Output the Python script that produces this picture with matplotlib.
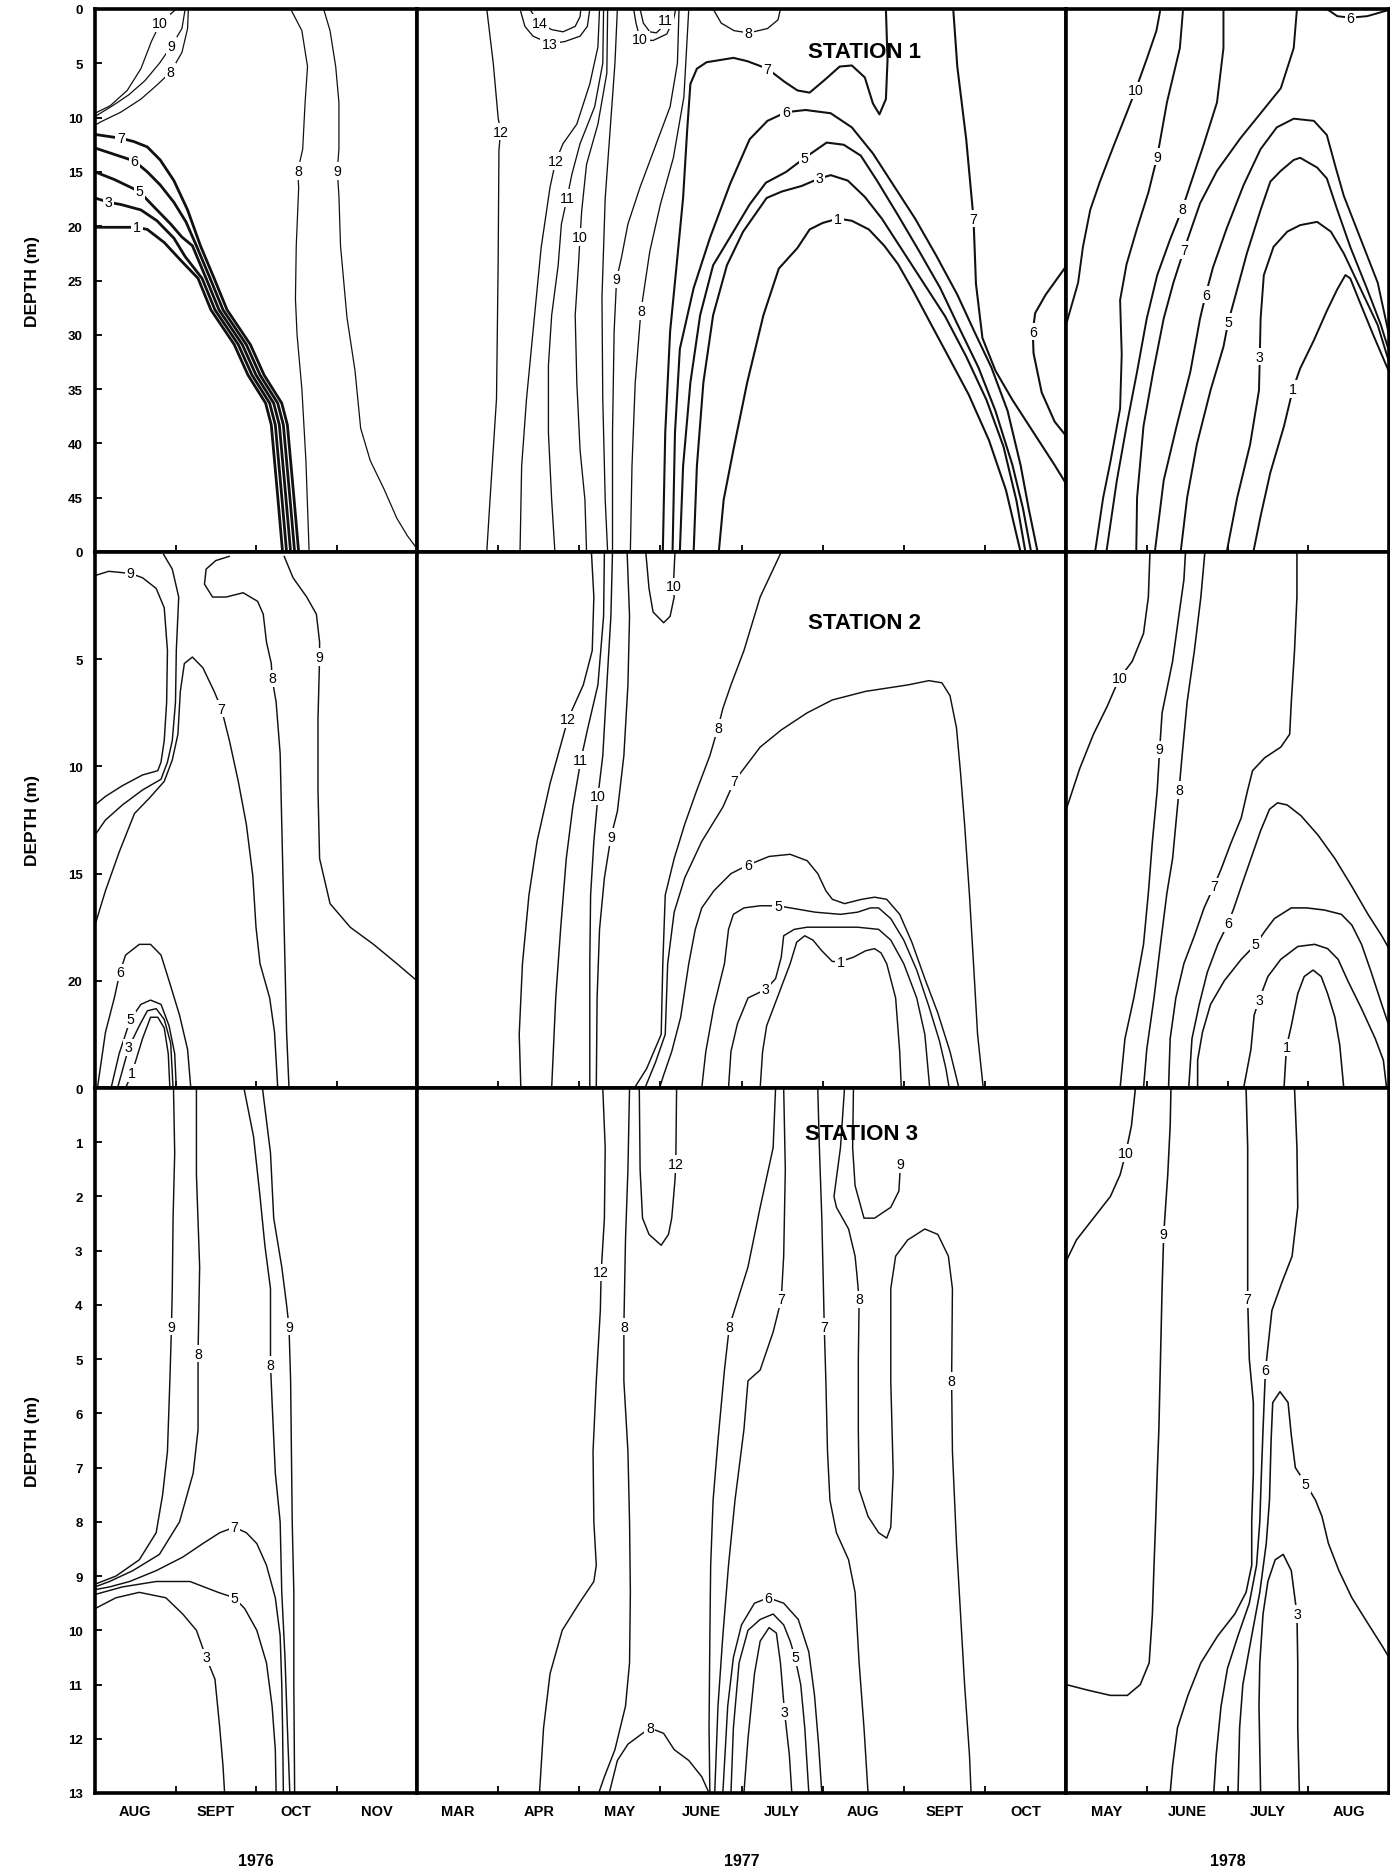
import matplotlib
matplotlib.use('Agg')
import matplotlib.pyplot as plt

plt.rcParams['font.family'] = ['Liberation Sans', 'DejaVu Sans']

# isotherms: (temperature, [(month, depth m), ...], label vertices)
# month axis: 8.0 = 1 Aug, 8.5 = mid Aug, ...

st1_1976 = [
    (10, [(9.01, 0), (8.81, 1.3), (8.70, 3.0), (8.57, 5.5), (8.40, 7.5), (8.19, 8.9), (8.0, 9.6)], (1,)),
    (9, [(9.12, 0), (9.08, 1.8), (8.95, 3.4), (8.80, 5.0), (8.62, 6.6), (8.42, 7.9), (8.22, 8.9), (8.0, 9.9)], (2,)),
    (8, [(9.16, 0), (9.15, 1.8), (9.08, 4.0), (8.94, 5.8), (8.77, 7.0), (8.57, 8.3), (8.32, 9.5), (8.07, 10.4), (8.0, 10.7)], (3,)),
    (7, [(8.0, 11.55), (8.32, 11.9), (8.48, 12.2), (8.65, 12.7), (8.81, 13.9), (8.98, 15.8), (9.15, 18.5), (9.31, 21.8),
         (9.48, 24.8), (9.64, 27.7), (9.93, 30.9), (10.10, 33.7), (10.32, 36.3), (10.39, 38.3), (10.47, 44.9), (10.53, 50)], (1,)),
    (6, [(8.0, 12.8), (8.49, 14.0), (8.65, 15.0), (8.81, 16.2), (8.98, 17.8), (9.13, 19.6), (9.26, 21.8), (9.43, 24.8),
         (9.59, 27.7), (9.88, 30.9), (10.05, 33.7), (10.27, 36.3), (10.34, 38.3), (10.42, 44.9), (10.48, 50)], (1,)),
    (5, [(8.0, 15.0), (8.24, 15.7), (8.55, 16.8), (8.73, 18.2), (8.94, 19.8), (9.08, 21.0), (9.21, 21.8), (9.38, 24.8),
         (9.54, 27.7), (9.83, 30.9), (10.0, 33.7), (10.22, 36.3), (10.29, 38.3), (10.37, 44.9), (10.43, 50)], (2,)),
    (3, [(8.0, 17.4), (8.17, 17.8), (8.32, 18.0), (8.57, 18.5), (8.77, 19.5), (8.98, 21.1), (9.12, 22.8), (9.33, 24.8),
         (9.49, 27.7), (9.78, 30.9), (9.95, 33.7), (10.17, 36.3), (10.24, 38.3), (10.32, 44.9), (10.38, 50)], (1,)),
    (1, [(8.0, 20.1), (8.52, 20.1), (8.65, 20.3), (8.86, 21.5), (9.06, 23.1), (9.28, 24.8), (9.44, 27.7), (9.73, 30.9),
         (9.90, 33.7), (10.12, 36.3), (10.19, 38.3), (10.27, 44.9), (10.33, 50)], (1,)),
    (8, [(10.43, 0), (10.57, 2.0), (10.64, 5.3), (10.61, 8.6), (10.58, 12.9), (10.52, 14.9), (10.53, 16.5), (10.50, 21.8),
         (10.49, 26.7), (10.51, 30.0), (10.57, 35.0), (10.62, 41.6), (10.66, 50)], (5,)),
    (9, [(10.84, 0), (10.92, 2.0), (10.99, 5.3), (11.03, 8.6), (11.03, 12.9), (11.01, 14.9), (11.03, 17.2), (11.05, 21.8),
         (11.09, 25.1), (11.13, 28.4), (11.23, 33.3), (11.30, 38.6), (11.42, 41.6), (11.59, 44.2), (11.75, 46.9),
         (11.88, 48.5), (12.0, 49.7)], (5,)),
]

st1_1977 = [
    (12, [(3.86, 0), (3.94, 5.0), (4.0, 10.0), (4.03, 11.3), (4.01, 13.0), (4.0, 23.6), (3.98, 35.9), (3.90, 45.2), (3.86, 50)], (3,)),
    (14, [(4.39, 0), (4.45, 0.7), (4.51, 1.3), (4.66, 1.9), (4.80, 2.1), (4.95, 1.6), (5.01, 0.7), (5.02, 0)], (2,)),
    (13, [(4.27, 0), (4.33, 1.6), (4.43, 2.5), (4.64, 3.2), (4.82, 3.0), (5.01, 2.5), (5.10, 1.6), (5.13, 0)], (3,)),
    (12, [(5.25, 0), (5.23, 3.5), (5.13, 6.9), (4.97, 10.6), (4.80, 12.4), (4.71, 14.0), (4.64, 16.4), (4.53, 22.0),
          (4.43, 29.7), (4.35, 35.9), (4.29, 42.1), (4.27, 50)], (5,)),
    (11, [(5.30, 0), (5.29, 5.0), (5.19, 9.0), (5.01, 12.4), (4.91, 15.2), (4.85, 17.4), (4.78, 19.8), (4.74, 23.6),
          (4.66, 28.2), (4.62, 32.8), (4.62, 39.0), (4.66, 45.2), (4.70, 50)], (5,)),
    (10, [(5.35, 0), (5.34, 5.9), (5.23, 10.6), (5.09, 14.3), (5.03, 18.6), (5.01, 21.0), (4.99, 23.6), (4.95, 28.2),
          (4.97, 34.4), (5.01, 40.6), (5.07, 45.2), (5.09, 50)], (5,)),
    (10, [(5.47, 0), (5.44, 5.0), (5.38, 11.2), (5.32, 17.4), (5.28, 26.6), (5.29, 35.9), (5.32, 45.2), (5.35, 50)], ()),
    (9, [(6.23, 0), (6.21, 5.0), (6.12, 9.0), (5.95, 12.4), (5.75, 16.4), (5.60, 19.8), (5.52, 22.9), (5.46, 24.9),
         (5.43, 29.7), (5.41, 39.0), (5.41, 50)], (7,)),
    (10, [(5.67, 0), (5.70, 1.3), (5.75, 2.8), (5.91, 2.9), (6.08, 2.3), (6.16, 1.0), (6.19, 0)], (2,)),
    (11, [(5.75, 0), (5.79, 1.3), (5.87, 2.1), (5.95, 2.2), (6.02, 1.7), (6.06, 1.0), (6.10, 0)], (5,)),
    (8, [(6.35, 0), (6.29, 8.1), (6.16, 13.7), (6.0, 18.0), (5.87, 22.3), (5.76, 27.8), (5.69, 34.4), (5.65, 42.1), (5.63, 50)], (5,)),
    (8, [(6.65, 0), (6.75, 1.3), (6.91, 2.0), (7.09, 2.2), (7.32, 1.8), (7.45, 1.0), (7.48, 0)], (3,)),
    (7, [(8.78, 0), (8.80, 4.7), (8.78, 8.3), (8.70, 9.7), (8.62, 8.7), (8.52, 6.3), (8.36, 5.2), (8.21, 5.3), (8.03, 6.5),
         (7.84, 7.7), (7.69, 7.5), (7.53, 6.7), (7.32, 5.5), (7.07, 4.8), (6.90, 4.5), (6.57, 4.9), (6.45, 5.5),
         (6.37, 6.9), (6.33, 11.2), (6.28, 17.4), (6.20, 23.6), (6.12, 29.7), (6.06, 39.0), (6.03, 50)], (12,)),
    (6, [(6.15, 50), (6.18, 39.0), (6.24, 31.3), (6.41, 25.7), (6.61, 21.1), (6.86, 16.1), (7.10, 12.0), (7.32, 10.3),
         (7.55, 9.5), (7.79, 9.3), (8.10, 9.6), (8.36, 10.9), (8.62, 13.3), (8.88, 16.3), (9.14, 19.3), (9.40, 22.7),
         (9.66, 26.3), (9.87, 29.7), (10.08, 33.0), (10.28, 37.0), (10.44, 42.0), (10.54, 46.0), (10.65, 50)], (8,)),
    (5, [(6.24, 50), (6.28, 42.1), (6.37, 34.4), (6.49, 28.2), (6.65, 23.6), (6.90, 20.5), (7.10, 18.0), (7.30, 16.0),
         (7.55, 15.0), (7.78, 13.7), (8.05, 12.3), (8.26, 12.5), (8.47, 13.5), (8.67, 15.8), (8.93, 19.0), (9.19, 22.3),
         (9.45, 25.7), (9.66, 29.0), (9.92, 33.0), (10.13, 37.0), (10.34, 42.0), (10.47, 46.0), (10.57, 50)], (9,)),
    (3, [(6.41, 50), (6.45, 42.1), (6.53, 34.4), (6.65, 28.2), (6.82, 23.6), (7.02, 20.5), (7.31, 17.4), (7.50, 16.8),
         (7.74, 16.3), (7.96, 15.6), (8.10, 15.3), (8.31, 15.8), (8.52, 17.3), (8.73, 19.3), (8.99, 22.3), (9.25, 25.3),
         (9.51, 28.3), (9.77, 32.0), (10.02, 36.0), (10.23, 40.3), (10.39, 45.3), (10.50, 50)], (9,)),
    (1, [(6.72, 50), (6.78, 45.2), (6.90, 40.6), (7.07, 34.4), (7.27, 28.2), (7.46, 23.9), (7.69, 22.0), (7.84, 20.3),
         (8.0, 19.7), (8.19, 19.3), (8.36, 19.5), (8.57, 20.3), (8.76, 21.8), (8.93, 23.5), (9.12, 26.0), (9.32, 28.8),
         (9.55, 32.0), (9.80, 35.5), (10.05, 39.7), (10.26, 44.3), (10.44, 50)], (9,)),
    (7, [(9.61, 0), (9.66, 5.3), (9.77, 12.0), (9.86, 19.3), (9.89, 25.3), (9.97, 30.3), (10.13, 33.3), (10.34, 36.0),
         (10.60, 39.0), (10.86, 42.0), (11.0, 43.7)], (3,)),
    (6, [(11.0, 23.7), (10.75, 26.3), (10.62, 28.0), (10.59, 29.7), (10.60, 31.7), (10.70, 35.3), (10.86, 38.0), (11.0, 39.3)], (3,)),
]

st1_1978 = [
    (10, [(6.17, 0), (6.12, 2.0), (6.0, 4.6), (5.86, 7.5), (5.75, 9.6), (5.59, 12.6), (5.42, 15.9), (5.30, 18.5),
          (5.21, 21.9), (5.15, 25.2), (5.05, 27.8), (5.0, 29.1)], (3,)),
    (9, [(6.45, 0), (6.41, 3.6), (6.25, 8.6), (6.13, 13.6), (6.02, 16.9), (5.88, 20.2), (5.75, 23.5), (5.67, 26.8),
         (5.69, 31.8), (5.67, 36.8), (5.55, 41.7), (5.46, 45.0), (5.36, 50)], (3,)),
    (8, [(6.95, 0), (6.95, 3.6), (6.87, 8.6), (6.70, 12.6), (6.44, 18.4), (6.29, 21.2), (6.13, 24.5), (6.0, 28.5),
         (5.88, 33.4), (5.75, 38.4), (5.63, 43.4), (5.50, 50)], (4,)),
    (7, [(7.86, 0), (7.82, 3.6), (7.66, 7.3), (7.41, 9.6), (7.16, 11.9), (6.87, 14.9), (6.66, 17.9), (6.46, 22.2),
         (6.33, 25.2), (6.21, 28.5), (6.08, 33.4), (5.96, 38.4), (5.88, 45), (5.87, 50)], (7,)),
    (6, [(6.10, 50), (6.21, 43.4), (6.37, 38.4), (6.54, 33.4), (6.66, 28.5), (6.73, 26.3), (6.82, 23.8), (6.99, 20.2),
         (7.20, 16.2), (7.41, 12.9), (7.61, 10.9), (7.82, 10.1), (8.07, 10.3), (8.23, 11.6), (8.34, 14.6), (8.44, 17.2),
         (8.65, 21.2), (8.86, 25.2), (9.0, 30.0)], (5,)),
    (5, [(6.42, 50), (6.50, 45), (6.62, 40.1), (6.79, 35.1), (6.95, 31.1), (7.01, 28.8), (7.12, 25.8), (7.24, 22.5),
         (7.41, 18.5), (7.53, 15.9), (7.66, 14.9), (7.82, 13.9), (7.90, 13.7), (8.11, 14.6), (8.23, 15.6), (8.36, 18.5),
         (8.52, 21.9), (8.73, 25.8), (8.90, 29.1), (9.0, 31.5)], (5,)),
    (3, [(6.99, 50), (7.12, 45), (7.28, 40.1), (7.39, 35.1), (7.40, 32), (7.41, 28.5), (7.45, 24.5), (7.57, 21.9),
         (7.74, 20.5), (7.90, 19.9), (8.11, 19.6), (8.28, 20.5), (8.44, 22.5), (8.65, 25.8), (8.86, 29.1), (9.0, 32.5)], (4,)),
    (1, [(7.32, 50), (7.41, 46.7), (7.53, 42.7), (7.70, 38.4), (7.81, 35), (7.90, 33.1), (8.07, 30.5), (8.23, 27.8),
         (8.36, 25.8), (8.46, 24.5), (8.52, 24.8), (8.65, 27.2), (8.81, 30.1), (9.0, 33.4)], (4,)),
    (6, [(8.23, 0), (8.36, 0.66), (8.52, 0.8), (8.73, 0.66), (8.96, 0.17), (9.0, 0.1)], (2,)),
]

st2_1976 = [
    (9, [(8.0, 1.1), (8.17, 0.9), (8.44, 1.0), (8.59, 1.2), (8.76, 1.7), (8.86, 2.6), (8.90, 4.6), (8.89, 7.0),
         (8.86, 8.8), (8.82, 9.8), (8.78, 10.2), (8.59, 10.4), (8.34, 10.9), (8.13, 11.4), (8.0, 11.8)], (2,)),
    (8, [(8.85, 0.1), (8.96, 0.8), (9.04, 2.1), (9.01, 4.6), (9.0, 7.0), (8.96, 8.8), (8.90, 9.8), (8.82, 10.6),
         (8.59, 11.1), (8.34, 11.8), (8.13, 12.5), (8.0, 13.2)], ()),
    (7, [(8.0, 17.4), (8.13, 15.8), (8.30, 14.0), (8.49, 12.2), (8.67, 11.5), (8.86, 10.7), (8.96, 9.7), (9.03, 8.5),
         (9.06, 6.5), (9.11, 5.2), (9.21, 4.9), (9.34, 5.4), (9.48, 6.5), (9.57, 7.3), (9.67, 8.8), (9.78, 10.7),
         (9.88, 12.7), (9.96, 15.1), (10.0, 17.5), (10.05, 19.2), (10.17, 20.8), (10.23, 22.4), (10.27, 25)], (13,)),
    (8, [(9.67, 0.2), (9.50, 0.4), (9.38, 0.8), (9.36, 1.5), (9.46, 2.1), (9.63, 2.1), (9.84, 1.9), (10.02, 2.3),
         (10.09, 2.9), (10.13, 4.2), (10.19, 5.2), (10.20, 5.9), (10.25, 7.0), (10.30, 9.4), (10.32, 12.7),
         (10.34, 15.9), (10.36, 19.2), (10.38, 22.4), (10.41, 25)], (11,)),
    (9, [(10.35, 0.2), (10.46, 1.2), (10.63, 2.1), (10.75, 2.9), (10.79, 4.2), (10.79, 4.9), (10.77, 7.8), (10.77, 11.1),
         (10.79, 14.3), (10.92, 16.4), (11.17, 17.5), (11.46, 18.3), (11.75, 19.2), (12.0, 20.0)], (5,)),
    (6, [(8.03, 25), (8.13, 22.4), (8.24, 20.8), (8.31, 19.6), (8.38, 18.8), (8.55, 18.3), (8.69, 18.3), (8.82, 18.8),
         (8.92, 20.0), (9.05, 21.6), (9.15, 23.2), (9.19, 25)], (3,)),
    (5, [(8.20, 25), (8.30, 23.4), (8.44, 21.8), (8.57, 21.1), (8.69, 20.9), (8.82, 21.1), (8.92, 22.1), (8.99, 23.4), (9.01, 25)], (2,)),
    (3, [(8.28, 25), (8.42, 23.1), (8.55, 22.1), (8.65, 21.4), (8.76, 21.3), (8.86, 21.8), (8.94, 22.9), (8.97, 25)], (1,)),
    (1, [(8.38, 25), (8.46, 24.3), (8.59, 22.7), (8.69, 21.7), (8.78, 21.7), (8.86, 22.2), (8.91, 23.4), (8.93, 25)], (1,)),
]

st2_1977 = [
    (12, [(5.15, 0), (5.18, 2.1), (5.16, 4.6), (5.05, 6.2), (4.86, 7.8), (4.64, 10.8), (4.48, 13.5), (4.38, 16.0),
          (4.30, 19.2), (4.26, 22.5), (4.28, 25)], (4,)),
    (11, [(5.31, 0), (5.30, 3.0), (5.23, 6.2), (5.10, 8.3), (5.02, 9.7), (4.92, 11.9), (4.84, 14.3), (4.77, 17.6),
          (4.71, 20.8), (4.66, 25)], (4,)),
    (10, [(5.41, 0), (5.39, 3.0), (5.34, 6.2), (5.29, 9.5), (5.23, 11.4), (5.18, 13.5), (5.14, 16.0), (5.13, 19.2),
          (5.13, 22.5), (5.13, 25)], (4,)),
    (9, [(5.59, 0), (5.62, 3.0), (5.60, 6.2), (5.55, 9.5), (5.47, 12.1), (5.39, 13.3), (5.31, 15.2), (5.25, 17.6),
         (5.22, 20.8), (5.21, 25)], (5,)),
    (10, [(5.82, 0), (5.86, 1.7), (5.91, 2.8), (6.04, 3.3), (6.12, 3.0), (6.17, 2.1), (6.16, 1.6), (6.18, 0)], (6,)),
    (8, [(7.49, 0), (7.23, 2.1), (7.03, 4.6), (6.87, 6.2), (6.77, 7.3), (6.71, 8.2), (6.61, 9.5), (6.45, 11.1),
         (6.30, 12.7), (6.17, 14.3), (6.06, 16.0), (6.03, 19.2), (6.01, 22.5), (5.83, 24.1), (5.68, 25)], (5,)),
    (7, [(5.81, 25), (5.94, 23.8), (6.06, 22.5), (6.09, 19.2), (6.17, 16.8), (6.30, 15.2), (6.51, 13.5), (6.77, 11.9),
         (6.91, 10.7), (7.03, 10.1), (7.23, 9.1), (7.49, 8.3), (7.81, 7.5), (8.12, 6.9), (8.53, 6.5), (9.05, 6.2),
         (9.31, 6.0), (9.47, 6.1), (9.57, 6.7), (9.65, 8.2), (9.70, 10.3), (9.75, 12.7), (9.81, 16.0), (9.86, 19.2),
         (9.91, 22.5), (9.98, 25)], (8,)),
    (6, [(5.99, 25), (6.04, 24.4), (6.14, 23.3), (6.25, 21.7), (6.35, 19.2), (6.43, 17.6), (6.51, 16.6), (6.66, 15.8),
         (6.87, 15.0), (7.08, 14.6), (7.34, 14.2), (7.60, 14.1), (7.81, 14.4), (7.94, 15.0), (8.04, 15.8), (8.12, 16.2),
         (8.27, 16.4), (8.48, 16.2), (8.64, 16.1), (8.79, 16.2), (8.95, 16.9), (9.10, 18.2), (9.26, 19.9), (9.42, 21.5),
         (9.57, 23.3), (9.68, 25)], (9,)),
    (5, [(6.51, 25), (6.56, 23.3), (6.66, 21.2), (6.79, 19.2), (6.84, 17.6), (6.90, 16.9), (7.03, 16.6), (7.23, 16.5),
         (7.45, 16.5), (7.60, 16.6), (7.91, 16.8), (8.22, 16.9), (8.43, 16.8), (8.59, 16.6), (8.69, 16.6), (8.84, 17.1),
         (9.0, 18.1), (9.16, 19.5), (9.31, 21.2), (9.44, 22.8), (9.52, 24.1), (9.56, 25)], (8,)),
    (3, [(6.84, 25), (6.87, 23.3), (6.95, 22.0), (7.08, 20.8), (7.30, 20.4), (7.42, 19.9), (7.49, 18.9), (7.52, 17.9),
         (7.65, 17.6), (7.81, 17.5), (8.12, 17.5), (8.43, 17.5), (8.69, 17.6), (8.84, 18.1), (9.0, 19.2), (9.16, 20.8),
         (9.26, 22.5), (9.32, 25)], (4,)),
    (1, [(7.23, 25), (7.26, 23.3), (7.31, 22.1), (7.44, 20.8), (7.60, 19.2), (7.68, 18.2), (7.78, 17.9), (7.88, 18.1),
         (7.99, 18.6), (8.12, 19.1), (8.22, 19.1), (8.38, 18.9), (8.53, 18.6), (8.64, 18.5), (8.72, 18.7), (8.79, 19.2),
         (8.90, 20.8), (8.95, 23.3), (8.97, 25)], (10,)),
]

st2_1978 = [
    (10, [(6.04, 0), (6.02, 2.1), (5.96, 3.8), (5.82, 5.1), (5.66, 5.9), (5.51, 7.2), (5.34, 8.5), (5.17, 10.1),
          (5.03, 11.7), (5.0, 12.0)], (4,)),
    (9, [(6.48, 0), (6.46, 1.3), (6.40, 2.9), (6.32, 5.1), (6.19, 7.5), (6.16, 9.2), (6.13, 11.1), (6.07, 13.5),
         (6.02, 15.9), (5.96, 18.3), (5.84, 20.8), (5.73, 22.7), (5.67, 25)], (5,)),
    (8, [(6.72, 0), (6.67, 2.1), (6.59, 4.6), (6.50, 7.0), (6.44, 9.4), (6.40, 11.1), (6.36, 12.7), (6.32, 14.3),
         (6.25, 15.9), (6.17, 18.3), (6.09, 20.8), (6.0, 23.2), (5.96, 25)], (5,)),
    (7, [(7.86, 0), (7.86, 2.1), (7.83, 4.6), (7.79, 7.0), (7.77, 8.5), (7.66, 9.1), (7.46, 9.6), (7.31, 10.2),
         (7.25, 11.1), (7.17, 12.4), (7.04, 13.6), (6.92, 14.8), (6.83, 15.6), (6.71, 16.6), (6.59, 17.9), (6.46, 19.2),
         (6.36, 20.8), (6.29, 22.7), (6.27, 25)], (12,)),
    (6, [(6.52, 25), (6.56, 22.7), (6.65, 21.1), (6.75, 19.6), (6.88, 18.3), (7.01, 17.3), (7.08, 16.6), (7.17, 15.6),
         (7.29, 14.3), (7.41, 13.0), (7.52, 12.0), (7.62, 11.7), (7.74, 11.8), (7.91, 12.3), (8.12, 13.2), (8.33, 14.3),
         (8.54, 15.6), (8.74, 16.9), (8.91, 17.9), (9.0, 18.5)], (5,)),
    (5, [(6.63, 25), (6.63, 23.7), (6.69, 22.4), (6.79, 21.1), (6.96, 20.0), (7.17, 19.0), (7.35, 18.3), (7.46, 17.7),
         (7.58, 17.1), (7.79, 16.6), (7.98, 16.6), (8.20, 16.7), (8.41, 16.9), (8.54, 17.4), (8.66, 18.3), (8.78, 19.6),
         (8.91, 21.1), (9.0, 22.1)], (6,)),
    (3, [(7.20, 25), (7.29, 23.2), (7.33, 21.6), (7.39, 20.9), (7.50, 19.8), (7.66, 19.0), (7.87, 18.4), (8.08, 18.3),
         (8.24, 18.5), (8.37, 19.0), (8.49, 20.0), (8.66, 21.3), (8.83, 22.7), (8.93, 23.7), (8.97, 25)], (3,)),
    (1, [(7.70, 25), (7.73, 23.1), (7.79, 22.1), (7.87, 20.6), (7.95, 19.8), (8.06, 19.5), (8.16, 19.8), (8.24, 20.6),
         (8.33, 21.7), (8.39, 23.0), (8.44, 25)], (1,)),
]

st3_1976 = [
    (9, [(8.975, 0), (8.99, 1.2), (8.97, 2.4), (8.96, 3.7), (8.95, 4.4), (8.93, 5.4), (8.90, 6.7), (8.84, 7.5),
         (8.76, 8.2), (8.55, 8.7), (8.26, 9.0), (8.0, 9.15)], (4,)),
    (8, [(9.26, 0), (9.26, 1.6), (9.30, 3.3), (9.28, 4.9), (9.28, 6.3), (9.22, 7.1), (9.05, 8.0), (8.80, 8.6),
         (8.47, 8.9), (8.18, 9.1), (8.0, 9.2)], (3,)),
    (7, [(8.0, 9.25), (8.18, 9.2), (8.43, 9.1), (8.76, 8.9), (9.09, 8.65), (9.34, 8.4), (9.55, 8.2), (9.73, 8.1),
         (9.88, 8.2), (10.01, 8.4), (10.13, 8.8), (10.24, 9.4), (10.30, 10.1), (10.32, 11.0), (10.33, 11.8), (10.34, 13.0)], (7,)),
    (5, [(8.0, 9.34), (8.34, 9.2), (8.76, 9.1), (9.18, 9.1), (9.53, 9.3), (9.73, 9.4), (9.86, 9.6), (10.01, 10.0),
         (10.13, 10.6), (10.20, 11.4), (10.24, 12.2), (10.25, 13.0)], (5,)),
    (3, [(8.0, 9.6), (8.26, 9.4), (8.55, 9.3), (8.88, 9.4), (9.09, 9.7), (9.26, 10.0), (9.38, 10.5), (9.49, 10.9),
         (9.55, 11.8), (9.59, 12.5), (9.61, 13.0)], (6,)),
    (8, [(9.85, 0), (9.97, 0.9), (10.05, 2.0), (10.11, 2.9), (10.18, 3.7), (10.18, 5.1), (10.20, 5.8), (10.24, 7.1),
         (10.30, 8.0), (10.32, 9.3), (10.36, 10.5), (10.39, 11.8), (10.42, 13.0)], (5,)),
    (9, [(10.08, 0), (10.18, 1.2), (10.22, 2.4), (10.32, 3.3), (10.38, 4.0), (10.41, 4.4), (10.43, 5.4), (10.44, 6.7),
         (10.45, 8.0), (10.47, 9.3), (10.47, 11.0), (10.48, 13.0)], (5,)),
]

st3_1977 = [
    (12, [(5.29, 0), (5.32, 1.1), (5.31, 2.4), (5.27, 3.4), (5.26, 4.1), (5.21, 5.4), (5.17, 6.7), (5.18, 8.0),
          (5.21, 8.8), (5.18, 9.1), (5.0, 9.5), (4.79, 10.0), (4.64, 10.8), (4.56, 11.8), (4.51, 13.0)], (3,)),
    (8, [(5.62, 0), (5.60, 1.5), (5.57, 2.8), (5.55, 4.4), (5.55, 5.4), (5.60, 6.7), (5.62, 8.0), (5.63, 9.3),
         (5.62, 10.6), (5.57, 11.4), (5.44, 12.2), (5.31, 12.7), (5.24, 13.0)], (3,)),
    (12, [(5.74, 0), (5.75, 1.5), (5.78, 2.4), (5.86, 2.7), (6.01, 2.9), (6.10, 2.7), (6.14, 2.4), (6.18, 1.7),
          (6.19, 1.4), (6.20, 0)], (8,)),
    (8, [(5.37, 13.0), (5.47, 12.4), (5.60, 12.1), (5.87, 11.8), (6.04, 11.9), (6.17, 12.2), (6.35, 12.4), (6.51, 12.7),
         (6.60, 13.0)], (3,)),
    (8, [(7.42, 0), (7.39, 1.1), (7.23, 2.2), (7.08, 3.3), (6.85, 4.4), (6.79, 5.2), (6.71, 6.5), (6.65, 7.6),
         (6.62, 8.8), (6.61, 10.1), (6.60, 11.8), (6.61, 13.0)], (4,)),
    (7, [(7.52, 0), (7.54, 1.5), (7.52, 3.1), (7.49, 3.9), (7.39, 4.5), (7.23, 5.2), (7.08, 5.4), (7.03, 6.3),
         (6.92, 7.6), (6.84, 8.8), (6.77, 10.1), (6.71, 11.4), (6.67, 13.0)], (3,)),
    (6, [(6.77, 13.0), (6.83, 11.4), (6.90, 10.5), (7.00, 9.9), (7.16, 9.5), (7.33, 9.4), (7.52, 9.5), (7.70, 9.8),
         (7.83, 10.4), (7.90, 11.2), (7.95, 12.1), (7.99, 13.0)], (5,)),
    (5, [(6.87, 13.0), (6.90, 11.8), (6.97, 10.6), (7.08, 10.0), (7.23, 9.8), (7.39, 9.7), (7.52, 9.9), (7.60, 10.2),
         (7.66, 10.5), (7.73, 11.0), (7.78, 11.8), (7.83, 13.0)], (8,)),
    (3, [(7.03, 13.0), (7.08, 12.0), (7.16, 10.8), (7.23, 10.2), (7.34, 9.95), (7.43, 10.05), (7.48, 10.6), (7.53, 11.5),
         (7.59, 12.3), (7.62, 13.0)], (7,)),
    (7, [(7.94, 0), (7.96, 1.1), (7.99, 2.4), (8.01, 3.7), (8.02, 4.4), (8.04, 5.4), (8.06, 6.7), (8.09, 7.6),
         (8.17, 8.2), (8.32, 8.7), (8.40, 9.3), (8.45, 10.6), (8.51, 11.8), (8.56, 13.0)], (4,)),
    (8, [(8.27, 0), (8.22, 1.1), (8.14, 2.0), (8.17, 2.2), (8.32, 2.6), (8.40, 3.1), (8.42, 3.4), (8.45, 3.9),
         (8.44, 5.0), (8.44, 6.3), (8.45, 7.4), (8.56, 7.9), (8.69, 8.2), (8.79, 8.3), (8.84, 8.1), (8.87, 7.1),
         (8.84, 5.4), (8.84, 3.7), (8.90, 3.1), (9.05, 2.8), (9.26, 2.6), (9.42, 2.7), (9.55, 3.1), (9.60, 3.7),
         (9.59, 5.4), (9.60, 6.7), (9.65, 8.4), (9.70, 9.7), (9.75, 11.0), (9.81, 12.3), (9.83, 13.0)], (7, 24)),
    (9, [(8.38, 0), (8.37, 1.1), (8.40, 1.8), (8.51, 2.4), (8.64, 2.4), (8.84, 2.2), (8.94, 1.9), (8.96, 1.4)], (7,)),
]

st3_1978 = [
    (10, [(5.86, 0), (5.81, 0.7), (5.74, 1.2), (5.67, 1.6), (5.55, 2.0), (5.34, 2.4), (5.13, 2.8), (5.0, 3.2)], (2,)),
    (9, [(6.30, 0), (6.29, 0.7), (6.26, 1.6), (6.21, 2.7), (6.19, 3.7), (6.17, 5.0), (6.15, 6.3), (6.13, 7.1),
         (6.11, 8.0), (6.09, 8.8), (6.07, 9.7), (6.03, 10.6), (5.92, 11.0), (5.76, 11.2), (5.55, 11.2), (5.26, 11.1),
         (5.0, 11.0)], (3,)),
    (7, [(7.23, 0), (7.25, 1.1), (7.25, 2.4), (7.25, 3.4), (7.25, 3.9), (7.27, 5.0), (7.32, 5.8), (7.32, 7.1),
         (7.30, 8.0), (7.30, 8.8), (7.23, 9.3), (7.09, 9.7), (6.88, 10.1), (6.67, 10.6), (6.51, 11.2), (6.38, 11.8),
         (6.32, 12.5), (6.29, 13.0)], (4,)),
    (6, [(7.83, 0), (7.86, 1.1), (7.87, 2.2), (7.80, 3.1), (7.67, 3.6), (7.55, 4.1), (7.47, 5.2), (7.44, 6.3),
         (7.42, 7.1), (7.40, 8.0), (7.36, 8.8), (7.27, 9.5), (7.13, 10.1), (7.00, 10.7), (6.92, 11.4), (6.86, 12.3),
         (6.83, 13.0)], (6,)),
    (5, [(7.13, 13.0), (7.15, 11.8), (7.19, 11.0), (7.30, 10.1), (7.40, 9.3), (7.48, 8.4), (7.52, 7.6), (7.54, 6.5),
         (7.56, 5.8), (7.65, 5.6), (7.75, 5.8), (7.79, 6.4), (7.84, 7.0), (7.97, 7.3), (8.09, 7.6), (8.17, 7.9),
         (8.25, 8.4), (8.38, 8.9), (8.54, 9.4), (8.75, 9.9), (8.92, 10.3), (9.0, 10.5)], (13,)),
    (3, [(7.41, 13.0), (7.39, 11.4), (7.40, 10.6), (7.44, 9.7), (7.50, 9.1), (7.59, 8.7), (7.69, 8.6), (7.79, 8.9),
         (7.86, 9.7), (7.87, 10.6), (7.87, 11.8), (7.89, 13.0)], (8,)),
]

months_1976 = ['AUG', 'SEPT', 'OCT', 'NOV']
months_1977 = ['MAR', 'APR', 'MAY', 'JUNE', 'JULY', 'AUG', 'SEPT', 'OCT']
months_1978 = ['MAY', 'JUNE', 'JULY', 'AUG']
years = ['1976', '1977', '1978']
stations = ['STATION 1', 'STATION 2', 'STATION 3']

panels = [[st1_1976, st1_1977, st1_1978],
          [st2_1976, st2_1977, st2_1978],
          [st3_1976, st3_1977, st3_1978]]
month_names = [months_1976, months_1977, months_1978]
xlims = [(8, 12), (3, 11), (5, 9)]
depth_max = [50, 25, 13]
depth_ticks = [list(range(0, 50, 5)), list(range(0, 25, 5)), list(range(0, 14))]
title_pos = [(0.69, 0.922), (0.69, 0.868), (0.685, 0.935)]

W, H = 1390.0, 1874.0
col_px = [95, 417, 1066, 1389]
row_px = [10, 553, 1089, 1794]


def line_width(r, c, t):
    if r == 0 and c == 0:
        return 2.0 if t <= 7 else 0.9
    if r == 0 and c == 1:
        return 1.5 if t <= 7 else 0.95
    if c == 2:
        return 1.4 if r == 0 else 1.15
    return 1.05


fig = plt.figure(figsize=(W / 100, H / 100), dpi=100)

for r in range(3):
    for c in range(3):
        left = col_px[c] / W
        width = (col_px[c + 1] - col_px[c]) / W
        bottom = 1 - row_px[r + 1] / H
        height = (row_px[r + 1] - row_px[r]) / H
        ax = fig.add_axes([left, bottom, width, height])

        for t, pts, labels in panels[r][c]:
            xs = [p[0] for p in pts]
            ys = [p[1] for p in pts]
            ax.plot(xs, ys, color='#111111', lw=line_width(r, c, t),
                    solid_joinstyle='round', solid_capstyle='round', zorder=2)
            for i in labels:
                ax.text(xs[i], ys[i], str(t), fontsize=10.2, ha='center', va='center',
                        zorder=4, clip_on=True,
                        bbox=dict(boxstyle='square,pad=0.12', fc='white', ec='none'))

        lo, hi = xlims[c]
        ax.set_xlim(lo, hi)
        ax.set_ylim(depth_max[r], 0)

        for sp in ax.spines.values():
            sp.set_linewidth(2.6)
            sp.set_zorder(6)

        ax.set_xticks(list(range(lo + 1, hi)))
        ax.set_xticklabels([])
        ax.tick_params(axis='x', which='major', direction='in', length=5, width=1.3)
        if r == 2:
            ax.set_xticks([m + 0.5 for m in range(lo, hi)], minor=True)
            ax.set_xticklabels(month_names[c], minor=True, fontsize=10.5, fontweight='bold')
            ax.tick_params(axis='x', which='minor', length=0, pad=8)
        else:
            ax.tick_params(axis='x', which='minor', length=0)

        if c == 0:
            ax.set_yticks(depth_ticks[r])
            ax.set_yticklabels([str(d) for d in depth_ticks[r]], fontsize=9.5, fontweight='bold')
            ax.tick_params(axis='y', direction='in', length=5, width=1.3, pad=9)
        else:
            ax.set_yticks([])

        if c == 1:
            ax.text(title_pos[r][0], title_pos[r][1], stations[r], transform=ax.transAxes,
                    fontsize=16, fontweight='bold', ha='center', va='center')

    fig.text(33 / W, 1 - (row_px[r] + row_px[r + 1]) / 2 / H, 'DEPTH (m)', rotation=90,
             fontsize=12.5, fontweight='bold', ha='center', va='center')

for c in range(3):
    fig.text((col_px[c] + col_px[c + 1]) / 2 / W, 1 - 1862 / H, years[c],
             fontsize=11.5, fontweight='bold', ha='center', va='center')

fig.savefig('out.png', dpi=100)
